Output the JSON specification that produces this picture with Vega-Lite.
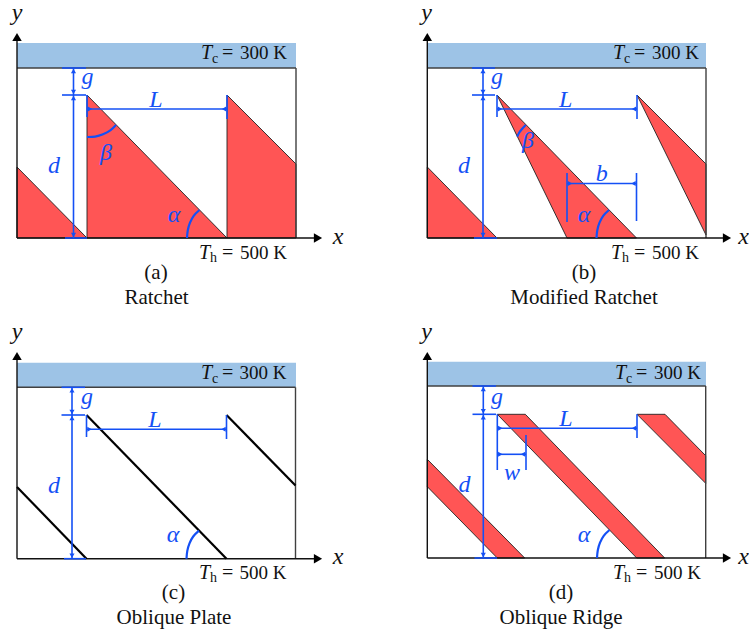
{"$schema":"https://vega.github.io/schema/vega-lite/v6.json","width":749,"height":634,"padding":0,"autosize":{"type":"none"},"background":"white","config":{"view":{"stroke":null}},
"datasets":{
"bands":[{"panel":"a","x":17,"x2":296,"y":43,"y2":68},{"panel":"b","x":427.3,"x2":706,"y":43,"y2":68},{"panel":"c","x":17,"x2":296,"y":362.7,"y2":387.3},{"panel":"d","x":427.3,"x2":706,"y":361.7,"y2":386}],
"polys":[
{"id":"a1","o":1,"x":17,"y":167},{"id":"a1","o":2,"x":87,"y":238},{"id":"a1","o":3,"x":17,"y":238},{"id":"a1","o":4,"x":17,"y":167},
{"id":"a2","o":1,"x":87,"y":95},{"id":"a2","o":2,"x":227,"y":238},{"id":"a2","o":3,"x":87,"y":238},{"id":"a2","o":4,"x":87,"y":95},
{"id":"a3","o":1,"x":227,"y":95},{"id":"a3","o":2,"x":296,"y":164},{"id":"a3","o":3,"x":296,"y":238},{"id":"a3","o":4,"x":227,"y":238},{"id":"a3","o":5,"x":227,"y":95},
{"id":"b1","o":1,"x":427.3,"y":167},{"id":"b1","o":2,"x":497,"y":238},{"id":"b1","o":3,"x":427.3,"y":238},{"id":"b1","o":4,"x":427.3,"y":167},
{"id":"b2","o":1,"x":497,"y":95},{"id":"b2","o":2,"x":636.5,"y":238},{"id":"b2","o":3,"x":567,"y":238},{"id":"b2","o":4,"x":497,"y":95},
{"id":"b3","o":1,"x":637,"y":95},{"id":"b3","o":2,"x":706,"y":164},{"id":"b3","o":3,"x":706,"y":235},{"id":"b3","o":4,"x":637,"y":95},
{"id":"d1","o":1,"x":427.3,"y":459.3},{"id":"d1","o":2,"x":524.7,"y":558},{"id":"d1","o":3,"x":497.3,"y":558},{"id":"d1","o":4,"x":427.3,"y":486.7},{"id":"d1","o":5,"x":427.3,"y":459.3},
{"id":"d2","o":1,"x":497.3,"y":414.3},{"id":"d2","o":2,"x":525.3,"y":414.3},{"id":"d2","o":3,"x":664.7,"y":558},{"id":"d2","o":4,"x":636.7,"y":558},{"id":"d2","o":5,"x":497.3,"y":414.3},
{"id":"d3","o":1,"x":637,"y":414.3},{"id":"d3","o":2,"x":665,"y":414.3},{"id":"d3","o":3,"x":705.7,"y":455.7},{"id":"d3","o":4,"x":705.7,"y":483.3},{"id":"d3","o":5,"x":637,"y":414.3}],
"frame":[
{"x":296,"y":68,"x2":296,"y2":238},{"x":17,"y":68,"x2":296,"y2":68},
{"x":706,"y":68,"x2":706,"y2":238},{"x":427.3,"y":68,"x2":706,"y2":68},
{"x":295.5,"y":387.3,"x2":295.5,"y2":558.7},{"x":17,"y":387.3,"x2":295.5,"y2":387.3},
{"x":705.7,"y":386,"x2":705.7,"y2":558},{"x":427.3,"y":386,"x2":705.7,"y2":386}],
"axes":[
{"x":17,"y":238,"x2":17,"y2":36},{"x":17,"y":238,"x2":318,"y2":238},
{"x":427.3,"y":238,"x2":427.3,"y2":36},{"x":427.3,"y":238,"x2":727,"y2":238},
{"x":17,"y":558.7,"x2":17,"y2":355},{"x":17,"y":558.7,"x2":318,"y2":558.7},
{"x":427.3,"y":558,"x2":427.3,"y2":355},{"x":427.3,"y":558,"x2":727,"y2":558}],
"plates":[
{"x":17,"y":487,"x2":86.5,"y2":558.7},{"x":86.5,"y":415,"x2":226.5,"y2":558.7},{"x":226.5,"y":415,"x2":295.5,"y2":485.5}],
"dims":[
{"x":62,"y":68,"x2":86,"y2":68},{"x":62,"y":95,"x2":86,"y2":95},{"x":65,"y":238,"x2":87,"y2":238},{"x":73.5,"y":68,"x2":73.5,"y2":95},{"x":73.5,"y":95,"x2":73.5,"y2":238},{"x":87,"y":109,"x2":227,"y2":109},{"x":87,"y":95,"x2":87,"y2":117},{"x":227,"y":95,"x2":227,"y2":119},
{"x":472,"y":68,"x2":495,"y2":68},{"x":472,"y":95,"x2":495,"y2":95},{"x":474,"y":238,"x2":497,"y2":238},{"x":483,"y":68,"x2":483,"y2":95},{"x":483,"y":95,"x2":483,"y2":238},{"x":497,"y":109,"x2":637,"y2":109},{"x":497,"y":95,"x2":497,"y2":117},{"x":637,"y":95,"x2":637,"y2":119},{"x":567,"y":183.5,"x2":636.5,"y2":183.5},{"x":567,"y":173,"x2":567,"y2":222},{"x":636.5,"y":173,"x2":636.5,"y2":221},
{"x":61.5,"y":387.3,"x2":85,"y2":387.3},{"x":61.5,"y":415,"x2":85,"y2":415},{"x":64,"y":558.7,"x2":86,"y2":558.7},{"x":72,"y":387.3,"x2":72,"y2":415},{"x":72,"y":415,"x2":72,"y2":558.7},{"x":86.5,"y":429.3,"x2":226.5,"y2":429.3},{"x":86.5,"y":415,"x2":86.5,"y2":437},{"x":226.5,"y":415,"x2":226.5,"y2":439},
{"x":472.5,"y":386,"x2":496,"y2":386},{"x":472.5,"y":414.3,"x2":496,"y2":414.3},{"x":474.5,"y":558,"x2":497,"y2":558},{"x":483.3,"y":386,"x2":483.3,"y2":414.3},{"x":483.3,"y":414.3,"x2":483.3,"y2":558},{"x":497.3,"y":428.3,"x2":637,"y2":428.3},{"x":497.3,"y":414.3,"x2":497.3,"y2":470},{"x":637,"y":414.3,"x2":637,"y2":438},{"x":497.3,"y":454.3,"x2":526,"y2":454.3},{"x":526,"y":435,"x2":526,"y2":470}],
"arcs":[
{"id":"aα","o":1,"x":187,"y":238},{"id":"aα","o":2,"x":187.8,"y":230.2},{"id":"aα","o":3,"x":190,"y":222.7},{"id":"aα","o":4,"x":193.7,"y":215.8},{"id":"aα","o":5,"x":199.5,"y":210},
{"id":"aβ","o":1,"x":87,"y":137},{"id":"aβ","o":2,"x":95.2,"y":136.6},{"id":"aβ","o":3,"x":103,"y":134.3},{"id":"aβ","o":4,"x":110.3,"y":130.4},{"id":"aβ","o":5,"x":116,"y":125},
{"id":"bα","o":1,"x":596.5,"y":238},{"id":"bα","o":2,"x":597.3,"y":230.2},{"id":"bα","o":3,"x":599.5,"y":222.7},{"id":"bα","o":4,"x":603.2,"y":215.8},{"id":"bα","o":5,"x":609,"y":210},
{"id":"bβ","o":1,"x":525.7,"y":125},{"id":"bβ","o":2,"x":522,"y":129},{"id":"bβ","o":3,"x":519,"y":133},{"id":"bβ","o":4,"x":517.3,"y":136.7},
{"id":"cα","o":1,"x":186.5,"y":558.7},{"id":"cα","o":2,"x":187.3,"y":550.9},{"id":"cα","o":3,"x":189.5,"y":543.4},{"id":"cα","o":4,"x":193.2,"y":536.5},{"id":"cα","o":5,"x":199,"y":530.7},
{"id":"dα","o":1,"x":597,"y":558},{"id":"dα","o":2,"x":597.8,"y":550.2},{"id":"dα","o":3,"x":600,"y":542.7},{"id":"dα","o":4,"x":603.7,"y":535.8},{"id":"dα","o":5,"x":609.5,"y":530}],
"heads":[
{"dir":"up","x":73.5,"y":71},{"dir":"down","x":73.5,"y":92},{"dir":"up","x":73.5,"y":98},{"dir":"down","x":73.5,"y":235},{"dir":"right","x":90,"y":109},{"dir":"left","x":224,"y":109},
{"dir":"up","x":483,"y":71},{"dir":"down","x":483,"y":92},{"dir":"up","x":483,"y":98},{"dir":"down","x":483,"y":235},{"dir":"right","x":500,"y":109},{"dir":"left","x":634,"y":109},{"dir":"right","x":570,"y":183.5},{"dir":"left","x":633.5,"y":183.5},
{"dir":"up","x":72,"y":390.3},{"dir":"down","x":72,"y":412},{"dir":"up","x":72,"y":418},{"dir":"down","x":72,"y":555.7},{"dir":"right","x":89.5,"y":429.3},{"dir":"left","x":223.5,"y":429.3},
{"dir":"up","x":483.3,"y":389},{"dir":"down","x":483.3,"y":411.3},{"dir":"up","x":483.3,"y":417.3},{"dir":"down","x":483.3,"y":555},{"dir":"right","x":500.3,"y":428.3},{"dir":"left","x":634,"y":428.3},{"dir":"right","x":500.3,"y":454.3},{"dir":"left","x":523,"y":454.3}],
"axisHeads":[
{"dir":"up","x":17,"y":37},{"dir":"right","x":318,"y":238},
{"dir":"up","x":427.3,"y":37},{"dir":"right","x":727,"y":238},
{"dir":"up","x":17,"y":356},{"dir":"right","x":318,"y":558.7},
{"dir":"up","x":427.3,"y":356},{"dir":"right","x":727,"y":558}],
"mathBlue":[
{"t":"g","x":87.5,"y":77},{"t":"L","x":156,"y":100},{"t":"d","x":54,"y":165.5},{"t":"β","x":106,"y":153},{"t":"α","x":174,"y":215},
{"t":"g","x":497,"y":77},{"t":"L","x":565.7,"y":100},{"t":"d","x":464,"y":165.5},{"t":"β","x":528,"y":141},{"t":"b","x":601.7,"y":174},{"t":"α","x":584,"y":215},
{"t":"g","x":87,"y":397},{"t":"L","x":155,"y":420},{"t":"d","x":54,"y":486},{"t":"α","x":173,"y":535},
{"t":"g","x":497,"y":397},{"t":"L","x":566,"y":419},{"t":"d","x":464.5,"y":484.5},{"t":"w","x":512,"y":473},{"t":"α","x":584,"y":535}],
"mathBlack":[
{"t":"y","x":17,"y":13},{"t":"x","x":338,"y":237},
{"t":"y","x":426.7,"y":13},{"t":"x","x":743.5,"y":237},
{"t":"y","x":17,"y":332},{"t":"x","x":338,"y":557},
{"t":"y","x":426.7,"y":332},{"t":"x","x":743.5,"y":557}],
"tees":[
{"x":201,"y":59},{"x":199,"y":258.5},{"x":613,"y":59},{"x":611,"y":258.5},{"x":201,"y":379.3},{"x":199,"y":578.5},{"x":615,"y":379},{"x":613,"y":578.5}],
"subs":[
{"t":"c","x":212,"y":62.5},{"t":"h","x":210,"y":262},{"t":"c","x":624,"y":62.5},{"t":"h","x":622,"y":262},{"t":"c","x":212,"y":382.8},{"t":"h","x":210,"y":582},{"t":"c","x":626,"y":382.5},{"t":"h","x":624,"y":582}],
"eqs":[
{"x":222,"y":59},{"x":222,"y":258.5},{"x":634,"y":59},{"x":634,"y":258.5},{"x":222,"y":379.3},{"x":222,"y":578.5},{"x":636,"y":379},{"x":636,"y":578.5}],
"temps":[
{"t":"300 K","x":287,"y":59},{"t":"500 K","x":287,"y":258.5},{"t":"300 K","x":699,"y":59},{"t":"500 K","x":699,"y":258.5},{"t":"300 K","x":286.5,"y":379.3},{"t":"500 K","x":286.5,"y":578.5},{"t":"300 K","x":701,"y":379},{"t":"500 K","x":701,"y":578.5}],
"captions":[
{"t":"(a)","x":156,"y":273},{"t":"Ratchet","x":156.5,"y":297.5},
{"t":"(b)","x":584,"y":273},{"t":"Modified Ratchet","x":584,"y":297.5},
{"t":"(c)","x":173.5,"y":593},{"t":"Oblique Plate","x":174,"y":618},
{"t":"(d)","x":561,"y":593},{"t":"Oblique Ridge","x":561,"y":618}]
},
"encoding":{"x":{"field":"x","type":"quantitative","scale":{"domain":[0,749],"nice":false,"zero":false},"axis":null},"y":{"field":"y","type":"quantitative","scale":{"domain":[634,0],"nice":false,"zero":false},"axis":null}},
"layer":[
{"data":{"name":"bands"},"mark":{"type":"rect","fill":"#9DC3E6"},"encoding":{"x2":{"field":"x2"},"y2":{"field":"y2"}}},
{"data":{"name":"polys"},"mark":{"type":"line","fill":"#FF5555","stroke":"#222222","strokeWidth":0.9,"interpolate":"linear"},"encoding":{"detail":{"field":"id"},"order":{"field":"o","type":"quantitative"}}},
{"data":{"name":"frame"},"mark":{"type":"rule","stroke":"#404040","strokeWidth":1.4},"encoding":{"x2":{"field":"x2"},"y2":{"field":"y2"}}},
{"data":{"name":"axes"},"mark":{"type":"rule","stroke":"#111111","strokeWidth":1.4},"encoding":{"x2":{"field":"x2"},"y2":{"field":"y2"}}},
{"data":{"name":"plates"},"mark":{"type":"rule","stroke":"#000000","strokeWidth":2.2},"encoding":{"x2":{"field":"x2"},"y2":{"field":"y2"}}},
{"data":{"name":"dims"},"mark":{"type":"rule","stroke":"#1450F5","strokeWidth":1.6},"encoding":{"x2":{"field":"x2"},"y2":{"field":"y2"}}},
{"data":{"name":"arcs"},"mark":{"type":"line","stroke":"#1450F5","strokeWidth":2.2,"interpolate":"cardinal"},"encoding":{"detail":{"field":"id"},"order":{"field":"o","type":"quantitative"}}},
{"data":{"name":"heads"},"mark":{"type":"point","filled":true,"fill":"#1450F5","opacity":1,"size":26},"encoding":{"shape":{"field":"dir","type":"nominal","legend":null,"scale":{"domain":["up","down","left","right"],"range":["triangle-up","triangle-down","triangle-left","triangle-right"]}}}},
{"data":{"name":"axisHeads"},"mark":{"type":"point","filled":true,"fill":"#000000","opacity":1,"size":90},"encoding":{"shape":{"field":"dir","type":"nominal","legend":null,"scale":{"domain":["up","down","left","right"],"range":["triangle-up","triangle-down","triangle-left","triangle-right"]}}}},
{"data":{"name":"mathBlue"},"mark":{"type":"text","font":"Liberation Serif","fontStyle":"italic","fontSize":24,"fill":"#1450F5"},"encoding":{"text":{"field":"t"}}},
{"data":{"name":"mathBlack"},"mark":{"type":"text","font":"Liberation Serif","fontStyle":"italic","fontSize":24,"fill":"#111111"},"encoding":{"text":{"field":"t"}}},
{"data":{"name":"tees"},"mark":{"type":"text","font":"Liberation Serif","fontStyle":"italic","fontSize":20,"fill":"#111111","align":"left","baseline":"alphabetic","text":"T"}},
{"data":{"name":"subs"},"mark":{"type":"text","font":"Liberation Serif","fontSize":14,"fill":"#111111","align":"left","baseline":"alphabetic"},"encoding":{"text":{"field":"t"}}},
{"data":{"name":"eqs"},"mark":{"type":"text","font":"Liberation Serif","fontSize":20,"fill":"#111111","align":"left","baseline":"alphabetic","text":"="}},
{"data":{"name":"temps"},"mark":{"type":"text","font":"Liberation Serif","fontSize":19,"fill":"#111111","align":"right","baseline":"alphabetic"},"encoding":{"text":{"field":"t"}}},
{"data":{"name":"captions"},"mark":{"type":"text","font":"Liberation Serif","fontSize":21,"fill":"#111111"},"encoding":{"text":{"field":"t"}}}
]}
